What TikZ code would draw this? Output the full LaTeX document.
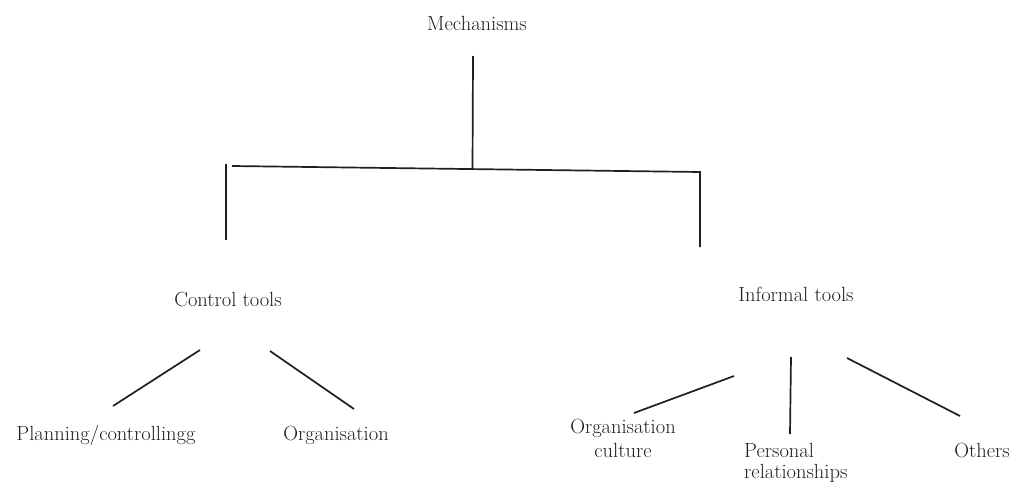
\documentclass[tikz,border=0pt]{standalone}
\usepackage{fontspec}
\begin{document}
\begin{tikzpicture}[x=1pt,y=-1pt,
  lbl/.style={inner sep=0pt,font=\fontsize{20.5}{24}\selectfont,text=black!88},
  conn/.style={line width=1.7pt,draw=black!88,line cap=butt}]
\useasboundingbox (0,0) rectangle (1009,482);
% labels
\node[lbl,anchor=base] (mech) at (477,30) {Mechanisms};
\node[lbl,anchor=base] (ctrl) at (228,306) {Control tools};
\node[lbl,anchor=base] (inf) at (796,301) {Informal tools};
\node[lbl,anchor=base] (plan) at (106,440) {Planning/controllingg};
\node[lbl,anchor=base] (org) at (336,440) {Organisation};
\node[lbl,anchor=base,align=center] (orgc) at (623,457) {Organisation\\culture};
\node[lbl,anchor=base west,align=left,font=\fontsize{20.5}{21}\selectfont] (pers) at (744,478) {Personal\\relationships};
\node[lbl,anchor=base] (oth) at (982,457) {Others};
% connector end points
\coordinate (m1) at (473,56);
\coordinate (m2) at (472.5,169);
\coordinate (hl) at (232,166);
\coordinate (hr) at (700,172);
\coordinate (cl1) at (226,164);
\coordinate (cl2) at (226,240);
\coordinate (ir2) at (700,247);
\coordinate (c1a) at (200,350);
\coordinate (c1b) at (113,406);
\coordinate (c2a) at (270,351);
\coordinate (c2b) at (354,409);
\coordinate (i1a) at (734,376);
\coordinate (i1b) at (634,413);
\coordinate (i2a) at (791,357);
\coordinate (i2b) at (790,434);
\coordinate (i3a) at (847,358);
\coordinate (i3b) at (960,416);
% connectors
\draw[conn] (m1) -- (m2);
\draw[conn] (hl) -- (hr) -- (ir2);
\draw[conn] (cl1) -- (cl2);
\draw[conn] (c1a) -- (c1b);
\draw[conn] (c2a) -- (c2b);
\draw[conn] (i1a) -- (i1b);
\draw[conn] (i2a) -- (i2b);
\draw[conn] (i3a) -- (i3b);
\end{tikzpicture}
\end{document}
